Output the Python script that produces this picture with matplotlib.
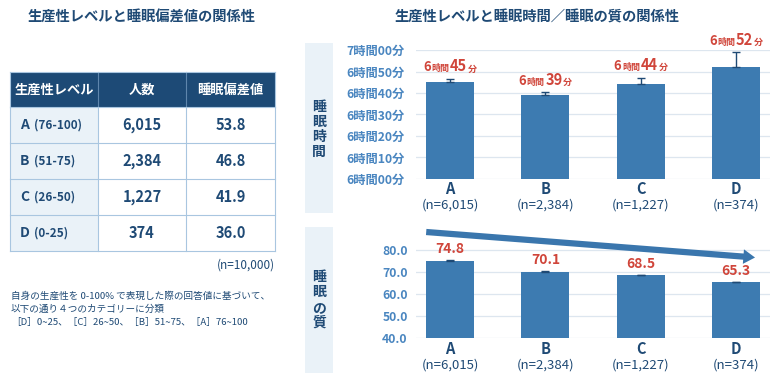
import matplotlib
matplotlib.use("Agg")
import matplotlib.pyplot as plt
from matplotlib.patches import Rectangle
from matplotlib.offsetbox import TextArea, HPacker, AnnotationBbox
from matplotlib.transforms import blended_transform_factory

plt.rcParams['font.family'] = ['Noto Sans CJK JP', 'DejaVu Sans']

# ---------------- data ----------------
levels = ["A", "B", "C", "D"]
level_ranges = ["(76-100)", "(51-75)", "(26-50)", "(0-25)"]
counts = ["6,015", "2,384", "1,227", "374"]
deviation = ["53.8", "46.8", "41.9", "36.0"]
table_header = ["生産性レベル", "人数", "睡眠偏差値"]
n_labels = ["(n=6,015)", "(n=2,384)", "(n=1,227)", "(n=374)"]

sleep_minutes_over6h = [45, 39, 44, 52]        # 6時間XX分
sleep_err = [1.7, 1.5, 3.2, 7.0]
time_ticks = [0, 10, 20, 30, 40, 50, 60]
time_tick_labels = ["6時間00分", "6時間10分", "6時間20分", "6時間30分",
                    "6時間40分", "6時間50分", "7時間00分"]

quality = [74.8, 70.1, 68.5, 65.3]
quality_err = [0.8, 0.25, 0.25, 0.25]
quality_ticks = [40, 50, 60, 70, 80]

# ---------------- styles ----------------
W, H = 780, 384
NAVY = "#1f4a75"
HEADER = "#1d4a76"
BAR = "#3d7bb1"
TICK = "#4a86c0"
RED = "#d0453a"
GRID = "#dde6ef"
CELL_BG = "#eaf2f8"
BORDER = "#a9c6e0"
SIDE_BG = "#eaf2f8"

fig = plt.figure(figsize=(W / 100, H / 100), dpi=100)
fig.patch.set_facecolor("white")


def fx(x):
    return x / W


def fy(y):
    return 1 - y / H


# ---------------- left: titles & table ----------------
fig.text(fx(142), fy(17), "生産性レベルと睡眠偏差値の関係性", ha="center", va="center",
         fontsize=10.3, fontweight="bold", color=NAVY)

col_x = [10, 98, 186, 275]
row_y = [72, 107, 143, 179, 215, 251]

# header
fig.add_artist(Rectangle((fx(col_x[0]), fy(row_y[1])), fx(col_x[3] - col_x[0]),
                         (row_y[1] - row_y[0]) / H, transform=fig.transFigure,
                         facecolor=HEADER, edgecolor="none"))
for i, h in enumerate(table_header):
    fig.text(fx((col_x[i] + col_x[i + 1]) / 2), fy((row_y[0] + row_y[1]) / 2), h,
             ha="center", va="center", fontsize=9.5, fontweight="bold", color="white")
for cx in col_x[1:3]:
    fig.add_artist(plt.Line2D([fx(cx), fx(cx)], [fy(row_y[0]), fy(row_y[1])],
                              transform=fig.transFigure, color="#5f86ad", lw=0.8))

# body
for r in range(4):
    y0, y1 = row_y[r + 1], row_y[r + 2]
    fig.add_artist(Rectangle((fx(col_x[0]), fy(y1)), fx(col_x[1] - col_x[0]),
                             (y1 - y0) / H, transform=fig.transFigure,
                             facecolor=CELL_BG, edgecolor="none"))
    yc = fy((y0 + y1) / 2)
    fig.text(fx(20), yc, levels[r], ha="left", va="center", fontsize=10,
             fontweight="bold", color=NAVY)
    fig.text(fx(34), yc, level_ranges[r], ha="left", va="center", fontsize=8.5,
             fontweight="bold", color=NAVY)
    fig.text(fx((col_x[1] + col_x[2]) / 2), yc, counts[r], ha="center", va="center",
             fontsize=10.5, fontweight="bold", color=NAVY)
    fig.text(fx((col_x[2] + col_x[3]) / 2), yc, deviation[r], ha="center", va="center",
             fontsize=10.5, fontweight="bold", color=NAVY)

for ry in row_y[1:]:
    fig.add_artist(plt.Line2D([fx(col_x[0]), fx(col_x[3])], [fy(ry), fy(ry)],
                              transform=fig.transFigure, color=BORDER, lw=0.8))
for cx in col_x:
    fig.add_artist(plt.Line2D([fx(cx), fx(cx)], [fy(row_y[1]), fy(row_y[5])],
                              transform=fig.transFigure, color=BORDER, lw=0.8))
for cx in (col_x[0], col_x[3]):
    fig.add_artist(plt.Line2D([fx(cx), fx(cx)], [fy(row_y[0]), fy(row_y[1])],
                              transform=fig.transFigure, color=BORDER, lw=0.8))
fig.add_artist(plt.Line2D([fx(col_x[0]), fx(col_x[3])], [fy(row_y[0]), fy(row_y[0])],
                          transform=fig.transFigure, color=BORDER, lw=0.8))

fig.text(fx(275), fy(265), "(n=10,000)", ha="right", va="center", fontsize=8.5,
         color=NAVY)

notes = ["自身の生産性を 0-100% で表現した際の回答値に基づいて、",
         "以下の通り４つのカテゴリーに分類",
         "［D］0~25、［C］26~50、［B］51~75、［A］76~100"]
for i, t in enumerate(notes):
    fig.text(fx(11), fy(296 + 13 * i), t, ha="left", va="center", fontsize=6.9,
             color=NAVY)

# ---------------- right title ----------------
fig.text(fx(537), fy(17), "生産性レベルと睡眠時間／睡眠の質の関係性", ha="center",
         va="center", fontsize=10.3, fontweight="bold", color=NAVY)

fig.add_artist(Rectangle((fx(305), fy(213)), fx(28), (213 - 43) / H,
                         transform=fig.transFigure, facecolor=SIDE_BG, edgecolor="none"))
fig.add_artist(Rectangle((fx(305), fy(373)), fx(28), (373 - 227) / H,
                         transform=fig.transFigure, facecolor=SIDE_BG, edgecolor="none"))
for i, ch in enumerate("睡眠時間"):
    fig.text(fx(319), fy(107 + 15 * i), ch, ha="center", va="center", fontsize=10,
             fontweight="bold", color=NAVY)
for i, ch in enumerate("睡眠の質"):
    fig.text(fx(319), fy(277 + 15.3 * i), ch, ha="center", va="center", fontsize=10,
             fontweight="bold", color=NAVY)

xs = list(range(len(levels)))
XL = (-0.357, 3.357)

# ---------------- top chart: sleep time ----------------
ax1 = fig.add_axes([fx(416), fy(179), fx(770 - 416), (179 - 50) / H])
ax1.bar(xs, sleep_minutes_over6h, width=0.503, color=BAR, zorder=2)
ax1.errorbar(xs, sleep_minutes_over6h, yerr=[[0] * 4, sleep_err], fmt="none",
             ecolor=NAVY, elinewidth=1, capsize=2.8, capthick=1, zorder=3)
ax1.set_xlim(*XL)
ax1.set_ylim(0, 60)
ax1.set_yticks(time_ticks)
ax1.set_yticklabels(time_tick_labels)
ax1.set_xticks([])
for t in ax1.get_yticklabels():
    t.set_fontweight("bold")
ax1.tick_params(axis="y", length=0, pad=8, labelsize=8.8, labelcolor=TICK)
ax1.grid(axis="y", color=GRID, lw=0.9, zorder=0)
for s in ax1.spines.values():
    s.set_visible(False)
ax1.patch.set_alpha(0)

for i, m in enumerate(sleep_minutes_over6h):
    parts = [("6", 9.5), ("時間", 6.5), (str(m), 10.5), ("分", 6.5)]
    boxes = [TextArea(p, textprops=dict(fontsize=s, fontweight="bold", color=RED))
             for p, s in parts]
    pack = HPacker(children=boxes, align="baseline", pad=0, sep=0.5)
    ab = AnnotationBbox(pack, (xs[i], m + sleep_err[i]), xybox=(0, 3),
                        boxcoords="offset points", box_alignment=(0.5, 0),
                        frameon=False, pad=0, annotation_clip=False)
    ax1.add_artist(ab)

tr1 = blended_transform_factory(ax1.transData, fig.transFigure)
for i in xs:
    ax1.text(i, fy(189), levels[i], transform=tr1, ha="center", va="center",
             fontsize=10.5, fontweight="bold", color=NAVY)
    ax1.text(i, fy(205), n_labels[i], transform=tr1, ha="center", va="center",
             fontsize=9.5, color=NAVY)

# ---------------- bottom chart: sleep quality ----------------
ax2 = fig.add_axes([fx(416), fy(338), fx(770 - 416), (338 - 232) / H])
ax2.bar(xs, quality, width=0.503, color=BAR, zorder=2)
ax2.errorbar(xs, quality, yerr=[[0] * 4, quality_err], fmt="none",
             ecolor=NAVY, elinewidth=1, capsize=2.8, capthick=1, zorder=3)
ax2.set_xlim(*XL)
ax2.set_ylim(40, 88.2)
ax2.set_yticks(quality_ticks)
ax2.set_yticklabels([f"{v:.1f}" for v in quality_ticks])
ax2.set_xticks([])
for t in ax2.get_yticklabels():
    t.set_fontweight("bold")
ax2.tick_params(axis="y", length=0, pad=6, labelsize=8.8, labelcolor=TICK)
ax2.grid(axis="y", color=GRID, lw=0.9, zorder=0)
for s in ax2.spines.values():
    s.set_visible(False)
ax2.patch.set_alpha(0)

for i, v in enumerate(quality):
    ax2.annotate(f"{v:.1f}", (xs[i], v + quality_err[i]), xytext=(0, 3),
                 textcoords="offset points", ha="center", va="bottom",
                 fontsize=10, fontweight="bold", color=RED, annotation_clip=False)

ax2.annotate("", xy=(3.2, 76.6), xytext=(-0.25, 88.2),
             arrowprops=dict(arrowstyle="simple,head_length=0.6,head_width=0.75,tail_width=0.32",
                             mutation_scale=14, color="#3a76ad", lw=0,
                             shrinkA=0, shrinkB=0),
             annotation_clip=False, zorder=4)

tr2 = blended_transform_factory(ax2.transData, fig.transFigure)
for i in xs:
    ax2.text(i, fy(349), levels[i], transform=tr2, ha="center", va="center",
             fontsize=10.5, fontweight="bold", color=NAVY)
    ax2.text(i, fy(365), n_labels[i], transform=tr2, ha="center", va="center",
             fontsize=9.5, color=NAVY)

fig.savefig("out.png", dpi=100, facecolor="white")
